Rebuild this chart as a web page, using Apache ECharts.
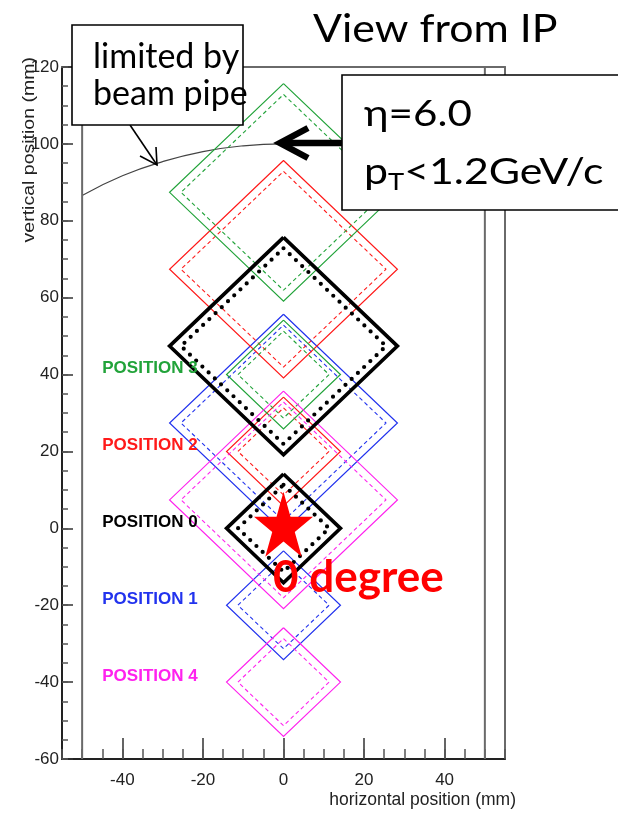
<!DOCTYPE html>
<html>
<head>
<meta charset="utf-8">
<script src="https://cdn.jsdelivr.net/npm/echarts@6/dist/echarts.min.js"></script>
<style>
  html, body { margin: 0; padding: 0; background: #fff; }
  #chart { width: 618px; height: 813px; }
</style>
</head>
<body>
<div id="chart"></div>
<script>
// Detector positions: centre heights of the small and large towers (mm)
const positionNames = ['POSITION 0', 'POSITION 1', 'POSITION 2', 'POSITION 3', 'POSITION 4'];
const smallTowerY = [0, -20, 20, 40, -40];
const largeTowerY = [47.4, 27.4, 67.4, 87.4, 7.4];
const towerX = 0;
const positionColors = ['#000000', '#2233ee', '#ff1a1a', '#22a33a', '#ff22ee'];

// Tower sides and fiducial (2 mm inset) sides, mm
const towerSides = [20, 40];
const fiducialSides = [16, 36];

// Beam pipe aperture as seen from the IP
const beamPipe = [[-50, 86.6], [-40, 91.7], [-30, 95.4], [-20, 98.0], [-10, 99.5], [0, 100]];
const apertureEdgesX = [-50, 50];

// Axes
const xRange = [-55, 55];
const yRange = [-60, 120];
const xMajorTicks = [-40, -20, 0, 20, 40];

const STAR = 'path://M0,-100L22.45,-30.9L95.1,-30.9L36.3,11.8L58.8,80.9L0,38.2L-58.8,80.9L-36.3,11.8L-95.1,-30.9L-22.45,-30.9Z';

// Rotated square (diamond) outline through the four corners
function diamond(cx, cy, side) {
  const h = side / Math.SQRT2;
  return [[cx, cy + h], [cx + h, cy], [cx, cy - h], [cx - h, cy], [cx, cy + h]];
}

const series = [];

// Beam pipe edge
series.push({
  type: 'line', data: beamPipe, smooth: true, symbol: 'none', silent: true,
  lineStyle: { color: '#444', width: 1.2 }, z: 2
});

// Aperture limits at x = +-50 mm
apertureEdgesX.forEach(x => {
  series.push({
    type: 'line', data: [[x, yRange[0]], [x, yRange[1]]], symbol: 'none', silent: true,
    lineStyle: { color: '#6a6a6a', width: 2 }, z: 2
  });
});

// Coloured positions first, the nominal (black) one on top
const order = [1, 2, 3, 4, 0];
order.forEach(i => {
  const isNominal = i === 0;
  const color = positionColors[i];
  [smallTowerY[i], largeTowerY[i]].forEach((cy, t) => {
    series.push({
      type: 'line', data: diamond(towerX, cy, towerSides[t]), symbol: 'none', silent: true,
      lineStyle: { color, width: isNominal ? 3.6 : 1.2, join: 'miter' },
      z: isNominal ? 6 : 4
    });
    series.push({
      type: 'line', data: diamond(towerX, cy, fiducialSides[t]), symbol: 'none', silent: true,
      lineStyle: isNominal
        ? { color, width: 4.2, type: [0, 8.6], cap: 'round' }
        : { color, width: 1.1, type: [4, 3] },
      z: isNominal ? 6 : 4
    });
  });
});

// Position labels
series.push({
  type: 'scatter', symbolSize: 0, silent: true, z: 7,
  itemStyle: { opacity: 1 },
  data: positionNames.map((n, i) => ({
    value: [-45, smallTowerY[i] + 1.6],
    label: { color: positionColors[i] }
  })),
  label: {
    show: true, position: 'right', distance: 0, opacity: 1,
    formatter: p => positionNames[p.dataIndex],
    fontFamily: '"Liberation Sans", Arial, sans-serif', fontWeight: 'bold', fontSize: 17
  }
});

// Zero-degree direction marker
series.push({
  type: 'scatter', data: [[0, 0]], symbol: STAR, symbolSize: [59, 65], symbolOffset: [0, -4],
  itemStyle: { color: '#ff0000', opacity: 1 }, silent: true, z: 9
});

const tickFont = { fontFamily: '"Liberation Sans", Arial, sans-serif', fontSize: 17, color: '#222' };
const textFont = 'Lato, "Noto Sans", sans-serif';

const option = {
  backgroundColor: '#fff',
  animation: false,
  grid: { left: 62, right: 113, top: 67, bottom: 54, containLabel: false, outerBoundsMode: 'none' },
  xAxis: [
    {
      type: 'value', min: xRange[0], max: xRange[1], position: 'bottom',
      axisLine: { onZero: false, lineStyle: { color: '#222', width: 2 } },
      axisTick: { inside: true, length: 21, customValues: xMajorTicks, lineStyle: { color: '#333', width: 1.5 } },
      axisLabel: Object.assign({ margin: 13, customValues: xMajorTicks }, tickFont),
      splitLine: { show: false }
    },
    {
      type: 'value', min: xRange[0], max: xRange[1], interval: 5, position: 'bottom',
      axisLine: { show: false, onZero: false },
      axisTick: { inside: true, length: 10, lineStyle: { color: '#555', width: 1.5 } },
      axisLabel: { show: false }, splitLine: { show: false }
    },
    {
      type: 'value', min: xRange[0], max: xRange[1], position: 'top',
      axisLine: { onZero: false, lineStyle: { color: '#6a6a6a', width: 2 } },
      axisTick: { show: false }, axisLabel: { show: false }, splitLine: { show: false }
    }
  ],
  yAxis: [
    {
      type: 'value', min: yRange[0], max: yRange[1], interval: 20, position: 'left',
      axisLine: { onZero: false, lineStyle: { color: '#222', width: 2 } },
      axisTick: { inside: true, length: 11, lineStyle: { color: '#333', width: 1.5 } },
      axisLabel: Object.assign({ margin: 3 }, tickFont),
      splitLine: { show: false }
    },
    {
      type: 'value', min: yRange[0], max: yRange[1], interval: 5, position: 'left',
      axisLine: { show: false, onZero: false },
      axisTick: { inside: true, length: 6, lineStyle: { color: '#555', width: 1.5 } },
      axisLabel: { show: false }, splitLine: { show: false }
    },
    {
      type: 'value', min: yRange[0], max: yRange[1], position: 'right',
      axisLine: { onZero: false, lineStyle: { color: '#6a6a6a', width: 2 } },
      axisTick: { show: false }, axisLabel: { show: false }, splitLine: { show: false }
    }
  ],
  series: series,
  graphic: [
    // axis titles
    {
      type: 'text', x: 29.5, y: 57, rotation: Math.PI / 2, scaleX: 1.22, z: 20,
      style: { text: 'vertical position (mm)', fill: '#222', fontSize: 16,
               fontFamily: '"Liberation Sans", Arial, sans-serif', align: 'right', verticalAlign: 'middle' }
    },
    {
      type: 'text', x: 516, y: 800, z: 20,
      style: { text: 'horizontal position (mm)', fill: '#222', fontSize: 17.5,
               fontFamily: '"Liberation Sans", Arial, sans-serif', align: 'right', verticalAlign: 'middle' }
    },
    // "0 degree"
    {
      type: 'text', x: 273, y: 578, z: 30,
      style: { text: '0 degree', fill: '#ff0000', fontSize: 44, fontWeight: 'bold',
               fontFamily: textFont, align: 'left', verticalAlign: 'middle' }
    },
    // title
    {
      type: 'text', x: 313, y: 29, z: 30, scaleX: 1.1,
      style: { text: 'View from IP', fill: '#000', fontSize: 39,
               fontFamily: textFont, align: 'left', verticalAlign: 'middle' }
    },
    // beam pipe callout
    {
      type: 'polyline', z: 29, shape: { points: [[130, 125], [157, 165]] },
      style: { stroke: '#000', lineWidth: 1.6, fill: null }
    },
    {
      type: 'polyline', z: 29, shape: { points: [[140, 156], [157, 165], [156, 147]] },
      style: { stroke: '#000', lineWidth: 1.6, fill: null }
    },
    {
      type: 'rect', z: 30, shape: { x: 72, y: 25, width: 171, height: 100 },
      style: { fill: '#fff', stroke: '#000', lineWidth: 1.6 }
    },
    {
      type: 'text', x: 93, y: 57, z: 31,
      style: { text: 'limited by', fill: '#000', fontSize: 34, fontFamily: textFont, align: 'left', verticalAlign: 'middle' }
    },
    {
      type: 'text', x: 93, y: 94, z: 31,
      style: { text: 'beam pipe', fill: '#000', fontSize: 34, fontFamily: textFont, align: 'left', verticalAlign: 'middle' }
    },
    // kinematics callout
    {
      type: 'polyline', z: 29, shape: { points: [[342, 143], [283, 143]] },
      style: { stroke: '#000', lineWidth: 6.5, fill: null }
    },
    {
      type: 'polyline', z: 29, shape: { points: [[308, 128], [280, 143], [308, 158]] },
      style: { stroke: '#000', lineWidth: 6.5, fill: null, lineJoin: 'miter' }
    },
    {
      type: 'rect', z: 30, shape: { x: 342, y: 75, width: 300, height: 135 },
      style: { fill: '#fff', stroke: '#000', lineWidth: 1.6 }
    },
    {
      type: 'text', x: 364, y: 114, z: 31, scaleX: 1.17,
      style: { text: 'η=6.0', fill: '#000', fontSize: 36, fontFamily: textFont, align: 'left', verticalAlign: 'middle' }
    },
    {
      type: 'text', x: 364, y: 174.5, z: 31, scaleX: 1.19,
      style: {
        text: '{m|p}{s|T}{m|<1.2GeV/c}', fill: '#000', align: 'left', verticalAlign: 'middle',
        rich: {
          m: { fontSize: 36, fontFamily: textFont, lineHeight: 40, verticalAlign: 'top', padding: [0, 0, 7, 0] },
          s: { fontSize: 23, fontFamily: textFont, lineHeight: 23, verticalAlign: 'bottom' }
        }
      }
    }
  ]
};

const chart = echarts.init(document.getElementById('chart'), null, { renderer: 'canvas' });
chart.setOption(option);
</script>
</body>
</html>
